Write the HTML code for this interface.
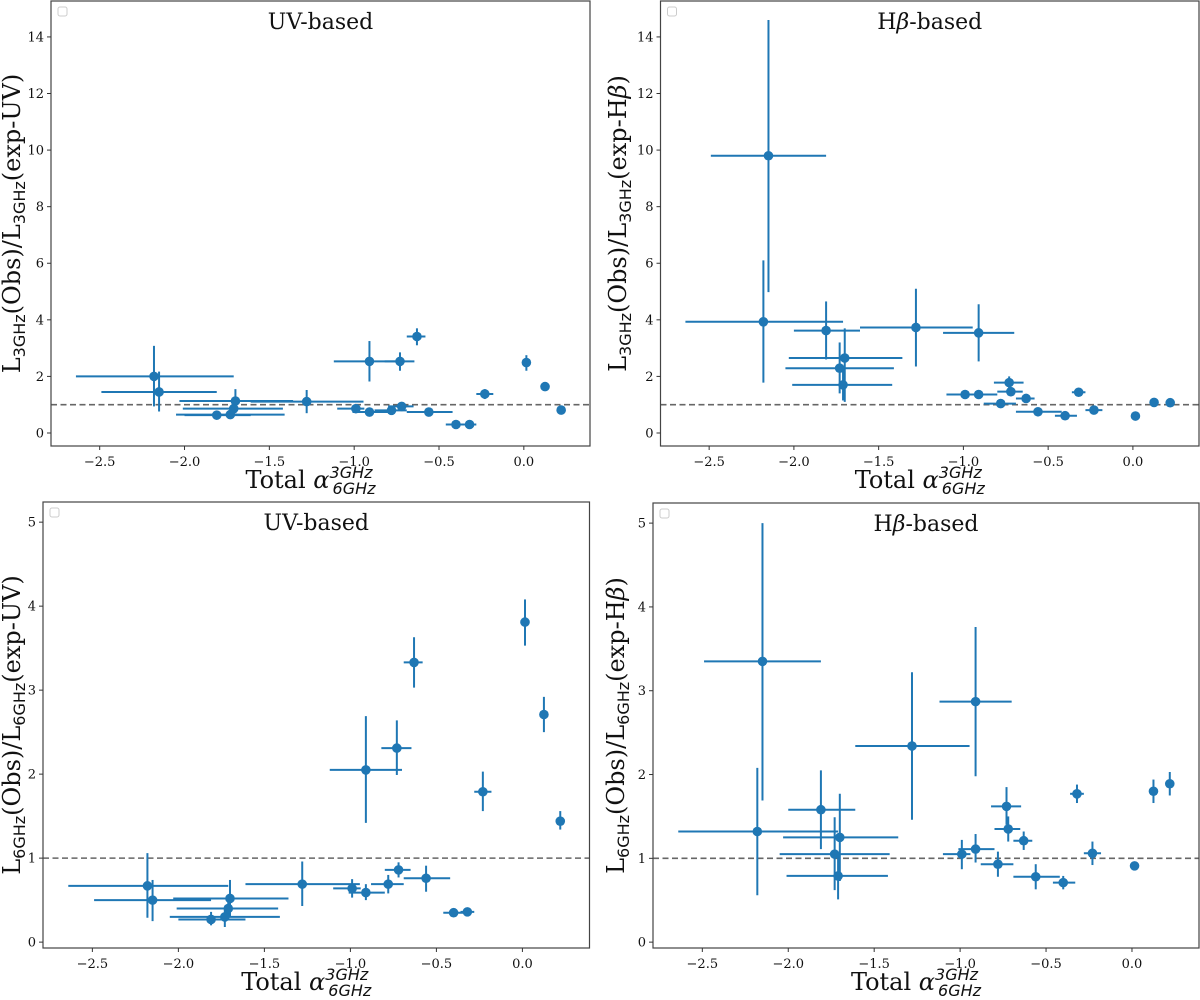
<!DOCTYPE html>
<html><head><meta charset="utf-8"><style>
html,body{margin:0;padding:0;background:#fff;}
svg{display:block;font-family:"DejaVu Serif","Liberation Serif",serif;}
</style></head><body>
<svg id="fig" width="1200" height="1000" viewBox="0 0 1200 1000" xmlns="http://www.w3.org/2000/svg"></svg>
<script>
// shared x (spectral index) per galaxy
const alphaX   = [-2.18,-2.15,-1.70,-1.71,-1.73,-1.81,-1.28,-0.91,-0.73,-0.63,-0.99,-0.91,-0.78,-0.72,-0.56,-0.40,-0.32,-0.23,0.015,0.125,0.22];
const alphaLo  = [-2.64,-2.49,-2.03,-2.01,-2.05,-2.00,-1.61,-1.12,-0.82,-0.69,-1.10,-1.01,-0.88,-0.80,-0.69,-0.46,-0.36,-0.28,0.005,0.115,0.21];
const alphaHi  = [-1.71,-1.81,-1.36,-1.42,-1.41,-1.61,-0.945,-0.70,-0.645,-0.58,-0.94,-0.80,-0.69,-0.65,-0.42,-0.33,-0.28,-0.18,0.025,0.135,0.23];
// panel: 3GHz UV
const uv3Y  = [2.0,1.45,1.13,0.86,0.65,0.63,1.11,2.53,2.53,3.41,0.86,0.74,0.80,0.94,0.74,0.30,0.30,1.38,2.49,1.64,0.81];
const uv3Lo = [0.94,0.76,0.70,0.70,0.50,0.50,0.70,1.82,2.20,3.10,0.75,0.65,0.70,0.84,0.62,0.25,0.25,1.20,2.20,1.50,0.75];
const uv3Hi = [3.08,2.17,1.55,1.00,0.78,0.75,1.52,3.25,2.85,3.70,0.97,0.83,0.90,1.04,0.86,0.35,0.35,1.55,2.75,1.75,0.88];
// panel: 3GHz Hbeta
const hb3Y  = [3.93,9.8,2.65,1.70,2.29,3.62,3.73,3.54,1.78,1.22,1.36,1.36,1.04,1.46,0.75,0.61,1.44,0.81,0.60,1.08,1.07];
const hb3Lo = [1.78,4.98,1.10,1.15,1.40,2.60,2.35,2.53,1.55,1.08,1.20,1.20,0.95,1.30,0.62,0.55,1.36,0.72,0.55,1.00,1.00];
const hb3Hi = [6.10,14.6,3.70,2.30,3.20,4.65,5.10,4.55,2.00,1.38,1.52,1.52,1.13,1.60,0.88,0.67,1.52,0.90,0.65,1.16,1.14];
// panel: 6GHz UV
const uv6Y  = [0.67,0.50,0.52,0.40,0.30,0.27,0.69,2.05,2.31,3.33,0.64,0.59,0.69,0.86,0.76,0.35,0.36,1.79,3.81,2.71,1.44];
const uv6Lo = [0.29,0.25,0.31,0.30,0.18,0.20,0.43,1.42,1.99,3.03,0.53,0.50,0.58,0.77,0.60,0.33,0.34,1.56,3.53,2.50,1.34];
const uv6Hi = [1.06,0.74,0.74,0.50,0.38,0.36,0.96,2.69,2.64,3.63,0.75,0.69,0.80,0.95,0.91,0.37,0.38,2.03,4.08,2.92,1.56];
// panel: 6GHz Hbeta
const hb6Y  = [1.32,3.35,1.25,0.79,1.05,1.58,2.34,2.87,1.62,1.21,1.05,1.11,0.93,1.35,0.78,0.71,1.77,1.06,0.91,1.80,1.89];
const hb6Lo = [0.56,1.69,0.73,0.51,0.62,1.11,1.46,1.98,1.40,1.10,0.87,0.95,0.78,1.20,0.63,0.63,1.66,0.92,0.86,1.66,1.75];
const hb6Hi = [2.08,5.00,1.77,1.05,1.49,2.05,3.22,3.76,1.85,1.32,1.22,1.29,1.08,1.50,0.93,0.79,1.88,1.20,0.96,1.94,2.03];
const xTicks = [-2.5,-2.0,-1.5,-1.0,-0.5,0.0];
const xTickLabels = ["\u22122.5","\u22122.0","\u22121.5","\u22121.0","\u22120.5","0.0"];
const yTicksTop = [0,2,4,6,8,10,12,14];
const yTicksBot = [0,1,2,3,4,5];

const NS="http://www.w3.org/2000/svg";
const svg=document.getElementById('fig');
function mk(tag,attrs,parent){const e=document.createElementNS(NS,tag);for(const k in attrs)e.setAttribute(k,attrs[k]);(parent||svg).appendChild(e);return e;}
const C="#1f77b4";

function panel(p){
  const g=mk('g',{});
  
  
  const X=v=>p.l+(v-(-2.787))/(0.39-(-2.787))*(p.r-p.l);
  const Y=v=>p.b-(v-p.ymin)/(p.ymax-p.ymin)*(p.b-p.t);
  const rl=mk('line',{x1:p.l,x2:p.r,y1:Y(1),y2:Y(1),stroke:"#666",'stroke-width':1.6,'stroke-dasharray':"6,3.5"},g);
  
  
  for(let i=0;i<alphaX.length;i++){
    const pg=mk('g',{},g);
    
    
    mk('line',{x1:X(alphaLo[i]),x2:X(alphaHi[i]),y1:Y(p.y[i]),y2:Y(p.y[i]),stroke:C,'stroke-width':2},pg);
    mk('line',{x1:X(alphaX[i]),x2:X(alphaX[i]),y1:Y(p.lo[i]),y2:Y(p.hi[i]),stroke:C,'stroke-width':2},pg);
    mk('circle',{cx:X(alphaX[i]),cy:Y(p.y[i]),r:4.8,fill:C},pg);
  }
  const fr=mk('rect',{x:p.l,y:p.t,width:p.r-p.l,height:p.b-p.t,fill:"none",stroke:"#444",'stroke-width':1.2},g);
  
  
  const lg=mk('rect',{x:p.l+7,y:p.t+6,width:9,height:9,rx:2,fill:"#fff",stroke:"#ccc",'stroke-width':1},g);
  
  
  xTicks.forEach((v,i)=>{
    mk('line',{x1:X(v),x2:X(v),y1:p.b,y2:p.b+4,stroke:"#333",'stroke-width':1},g);
    const t=mk('text',{x:X(v),y:p.b+20,'text-anchor':'middle','font-size':13,fill:"#111"},g);
    t.textContent=xTickLabels[i];
    
    
  });
  p.yt.forEach(v=>{
    mk('line',{x1:p.l-4,x2:p.l,y1:Y(v),y2:Y(v),stroke:"#333",'stroke-width':1},g);
    const t=mk('text',{x:p.l-7,y:Y(v)+4.5,'text-anchor':'end','font-size':13,fill:"#111"},g);
    t.textContent=String(v);
    
    
  });
  const ti=mk('text',{x:(p.l+p.r)/2,y:p.t+28,'text-anchor':'middle','font-size':22,fill:"#111"},g);
  ti.innerHTML=p.title;
  
  
  const xl=mk('text',{x:(p.l+p.r)/2-10,y:p.b+42,'text-anchor':'middle','font-size':24,fill:"#111"},g);
  xl.innerHTML='Total <tspan font-style="italic">α</tspan><tspan font-family="DejaVu Sans,sans-serif" font-style="italic" font-size="16" dy="-10">3GHz</tspan><tspan font-family="DejaVu Sans,sans-serif" font-style="italic" font-size="16" dx="-40" dy="16">6GHz</tspan>';
  
  
  const cy=(p.t+p.b)/2;
  const yl=mk('text',{x:0,y:0,'text-anchor':'middle','font-size':24,fill:"#111",transform:`translate(${p.yx},${cy}) rotate(-90)`},g);
  yl.innerHTML=p.ylab;
  
  
}
const sub=(s)=>`<tspan font-family="DejaVu Sans,sans-serif" font-size="16" dy="5">${s}</tspan><tspan dy="-5">`;
function ylab(f,e){return `L${sub(f)}(Obs)/L</tspan>${sub(f)}(exp-${e})</tspan>`;}
const hbT='H<tspan font-style="italic">β</tspan>-based';
panel({name:'panel-3ghz-uv',l:51,r:590,t:1,b:446,ymin:-0.46,ymax:15.27,yt:yTicksTop,y:uv3Y,lo:uv3Lo,hi:uv3Hi,title:'UV-based',ylab:ylab('3GHz','UV'),yx:20});
panel({name:'panel-3ghz-hbeta',l:660.5,r:1199,t:1,b:446,ymin:-0.46,ymax:15.27,yt:yTicksTop,y:hb3Y,lo:hb3Lo,hi:hb3Hi,title:hbT,ylab:ylab('3GHz','H<tspan font-style="italic">β</tspan>'),yx:626});
panel({name:'panel-6ghz-uv',l:43,r:589.5,t:502,b:948,ymin:-0.07,ymax:5.24,yt:yTicksBot,y:uv6Y,lo:uv6Lo,hi:uv6Hi,title:'UV-based',ylab:ylab('6GHz','UV'),yx:20});
panel({name:'panel-6ghz-hbeta',l:653,r:1199,t:503,b:948,ymin:-0.07,ymax:5.24,yt:yTicksBot,y:hb6Y,lo:hb6Lo,hi:hb6Hi,title:hbT,ylab:ylab('6GHz','H<tspan font-style="italic">β</tspan>'),yx:624});
</script>
</body></html>
